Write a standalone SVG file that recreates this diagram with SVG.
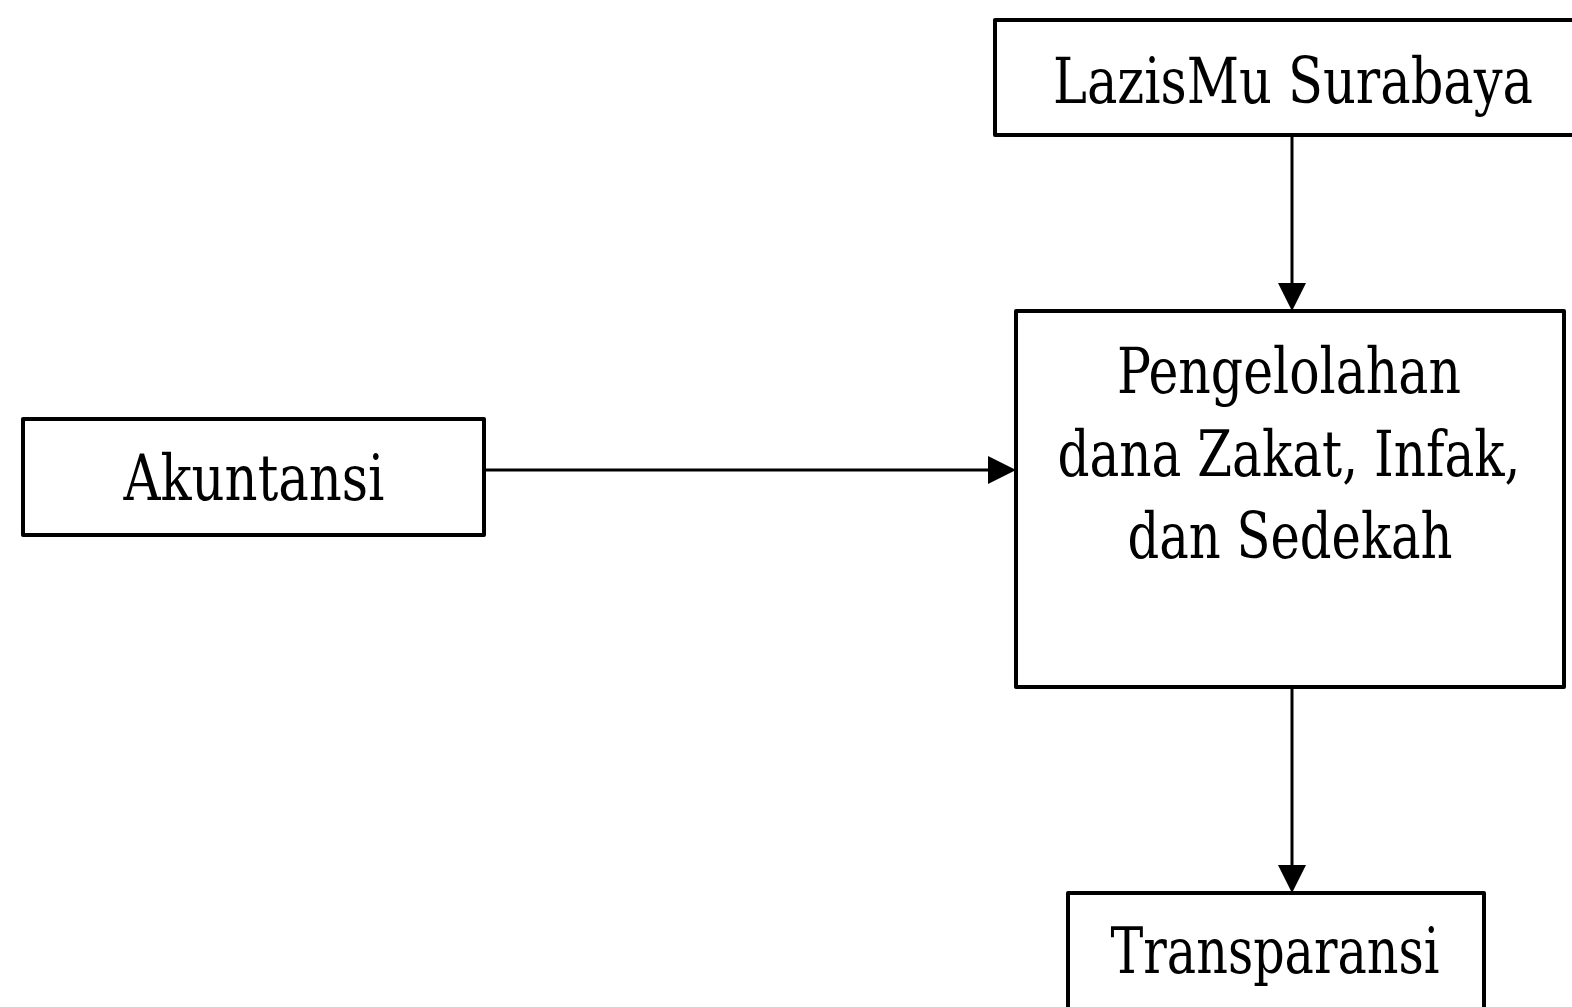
<svg xmlns="http://www.w3.org/2000/svg" width="1572" height="1007" viewBox="0 0 1572 1007">
<defs>
<style>
.box{fill:#fff;stroke:#000;stroke-width:4;stroke-linejoin:round}
.t{font-family:"DejaVu Serif","Liberation Serif",serif;font-stretch:condensed;font-size:63px;fill:#000;text-anchor:middle}
.c{stroke:#000;stroke-width:3;fill:none}
.h{fill:#000}
</style>
</defs>
<rect width="1572" height="1007" fill="#fff"/>
<g id="connectors">
<line class="c" x1="1292" y1="136" x2="1292" y2="285"/>
<polygon class="h" points="1278,283 1306,283 1292,311"/>
<line class="c" x1="485" y1="470" x2="990" y2="470"/>
<polygon class="h" points="988,456 988,484 1016,470"/>
<line class="c" x1="1292" y1="687" x2="1292" y2="867"/>
<polygon class="h" points="1278,865 1306,865 1292,893"/>
</g>
<g id="node-lazismu">
<rect class="box" x="995" y="20" width="600" height="115"/>
<text class="t" x="1293" y="103" textLength="480" lengthAdjust="spacingAndGlyphs">LazisMu Surabaya</text>
</g>
<g id="node-pengelolahan">
<rect class="box" x="1016" y="311" width="548" height="376"/>
<text class="t" x="1289" y="393" textLength="344" lengthAdjust="spacingAndGlyphs">Pengelolahan</text>
<text class="t" x="1289" y="476" textLength="463" lengthAdjust="spacingAndGlyphs">dana Zakat, Infak,</text>
<text class="t" x="1290" y="558" textLength="325" lengthAdjust="spacingAndGlyphs">dan Sedekah</text>
</g>
<g id="node-akuntansi">
<rect class="box" x="23" y="419" width="461" height="116"/>
<text class="t" x="254" y="500" textLength="261" lengthAdjust="spacingAndGlyphs">Akuntansi</text>
</g>
<g id="node-transparansi">
<rect class="box" x="1068" y="893" width="416" height="140"/>
<text class="t" x="1275" y="973" textLength="329" lengthAdjust="spacingAndGlyphs">Transparansi</text>
</g>
</svg>
